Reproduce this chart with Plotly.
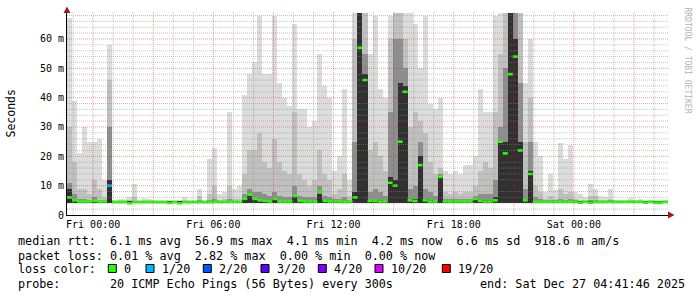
import numpy as np
import pandas as pd
import plotly.graph_objects as go

# ---------------- data ----------------
START = "2025-12-25 22:41:46"
END = "2025-12-27 04:41:46"
STEP_MIN = 15
MIN_RTT = 4.1  # ms

# smoke envelope (ms) per 15-minute bin, from outermost to innermost ping ranks
rtt_max = [
    67, 39, 21, 30, 25, 25, 26, 12, 58, 5.2, 5.5, 5.5, 6, 10.5, 5, 5.8, 5.5, 5, 5.2, 5,
    5, 5, 5, 6, 5.2, 5, 9, 5, 19, 23, 7, 8, 35, 9, 10, 41, 48, 52, 68, 48,
    48, 68, 45, 40, 37, 65, 36, 36, 30, 32, 55, 44, 40, 15, 20, 43, 12, 69, 69, 69,
    55, 68, 43, 40, 68, 69, 69, 69, 69, 65, 50, 68, 38, 36, 40, 15, 14, 15, 14, 17,
    17, 20, 43, 35, 35, 68, 69, 69, 69, 69, 69, 45, 60, 25, 20, 8, 14, 8.5, 24.6, 19,
    24, 8, 7, 6, 10.7, 9, 6.5, 6, 9, 5.2, 5.2, 5.2, 5.8, 5, 5.5, 5, 5.2, 5, 5, 5,
]
rtt_mid = [
    30, 18, 9, 9, 7, 12, 9, 6, 46, 4.8, 5, 5, 5, 6, 4.8, 5, 5, 4.8, 4.8, 4.8,
    4.8, 4.8, 4.8, 5.2, 4.8, 4.8, 6.5, 4.8, 7, 10, 5.2, 5.5, 10, 5.5, 5.5, 14, 22, 22, 28, 18,
    16, 26, 18, 15, 14, 35, 14, 12, 10, 12, 22, 14, 12, 7, 9, 14, 6.5, 60, 69, 69,
    22, 25, 20, 15, 60, 69, 69, 60, 30, 35, 32, 28, 18, 14, 16, 8, 7, 8, 7, 8,
    8, 10, 15, 18, 16, 35, 55, 69, 69, 69, 69, 25, 40, 10, 8, 5.5, 6.5, 5.5, 9, 7,
    8, 5.5, 5.2, 5, 6.5, 6.5, 5.2, 5, 5.5, 4.8, 4.8, 4.8, 5.2, 4.8, 5, 4.8, 4.8, 4.8, 4.8, 4.8,
]
rtt_core = [
    11, 7, 5.5, 5.5, 5, 6, 5, 5, 30, 4.6, 4.6, 4.6, 4.6, 4.8, 4.5, 4.6, 4.6, 4.5, 4.5, 4.5,
    4.5, 4.5, 4.5, 4.6, 4.5, 4.5, 5, 4.5, 5, 5.5, 4.8, 4.8, 5.5, 4.8, 4.8, 7, 9, 8, 8, 7,
    6.5, 8, 6.5, 6, 6, 10, 6.5, 6, 6, 6, 10, 6.5, 6, 5.5, 5.5, 6, 5.2, 25, 69, 55,
    8, 9, 8, 6.5, 35, 60, 60, 50, 9, 10, 25, 9, 8, 6.5, 14, 5.5, 5.5, 5.5, 5.5, 5.5,
    5.5, 6.5, 7, 7, 7, 12, 30, 50, 69, 69, 45, 9, 25, 6, 5.5, 5, 5, 5, 5.5, 5,
    5.5, 5, 4.8, 4.6, 5, 5, 4.8, 4.6, 5, 4.6, 4.6, 4.6, 4.8, 4.6, 4.6, 4.6, 4.6, 4.6, 4.6, 4.6,
]
rtt_inner = [
    9, 5, 4.8, 4.8, 4.7, 4.8, 4.7, 4.7, 12, 4.5, 4.5, 4.5, 4.5, 4.5, 4.5, 4.5, 4.5, 4.5, 4.5, 4.5,
    4.5, 4.5, 4.5, 4.5, 4.5, 4.5, 4.6, 4.5, 4.6, 4.8, 4.6, 4.6, 4.8, 4.6, 4.6, 5.5, 6.5, 5.5, 5.2, 5,
    4.8, 5.5, 4.8, 4.8, 4.8, 6.5, 5, 4.8, 4.8, 4.8, 7, 5, 4.8, 4.8, 4.8, 4.8, 4.7, 8, 69, 48,
    5, 5, 5, 4.8, 13, 12, 45, 44, 5.5, 5.5, 20, 5.5, 5, 4.8, 13, 4.8, 4.8, 4.8, 4.8, 4.8,
    4.8, 5.5, 5, 5, 5, 6, 25, 25, 69, 60, 25, 5.5, 15, 4.8, 4.8, 4.6, 4.6, 4.6, 4.8, 4.6,
    4.8, 4.6, 4.5, 4.5, 4.6, 4.6, 4.5, 4.5, 4.6, 4.5, 4.5, 4.5, 4.5, 4.5, 4.5, 4.5, 4.5, 4.5, 4.5, 4.5,
]
rtt_median = [
    6, 5, 4.6, 4.6, 4.6, 4.8, 4.6, 4.6, 10, 4.4, 4.4, 4.4, 4.0, 4.4, 4.4, 4.4, 4.4, 4.4, 4.4, 4.4,
    4.1, 4.4, 4.0, 4.4, 4.4, 4.4, 4.4, 4.4, 4.4, 4.5, 4.5, 4.5, 4.5, 4.5, 4.5, 5.5, 7, 5.5, 5, 4.8,
    4.6, 5.5, 4.6, 4.6, 4.6, 6.5, 4.8, 4.6, 4.6, 4.6, 8, 4.8, 4.6, 4.6, 4.6, 4.4, 4.6, 6, 57, 46,
    4.8, 4.8, 4.6, 4.6, 11, 10, 25, 42, 5, 4.8, 17, 5, 4.6, 4.6, 13, 4.6, 4.6, 4.6, 4.6, 4.6,
    4.6, 5.5, 4.8, 4.6, 4.6, 5, 25, 21, 48, 54, 22, 5, 14, 4.5, 4.5, 4.5, 4.5, 4.5, 4.5, 4.5,
    4.5, 4.5, 4.2, 4.5, 4.2, 4.5, 4.5, 4.5, 4.5, 4.5, 4.5, 4.5, 4.5, 4.5, 4.5, 4.2, 4.5, 4.2, 4.2, 4.5,
]
loss_count = [
    0, 0, 0, 0, 0, 0, 0, 0, 1, 0, 0, 0, 0, 0, 0, 0, 0, 0, 0, 0,
    0, 0, 0, 0, 0, 0, 0, 0, 0, 0, 0, 0, 0, 0, 0, 0, 0, 0, 0, 0,
    0, 0, 0, 0, 0, 0, 0, 0, 0, 0, 0, 0, 0, 0, 0, 0, 0, 0, 0, 0,
    0, 0, 0, 0, 0, 0, 0, 0, 0, 0, 0, 0, 0, 0, 0, 0, 0, 0, 0, 0,
    0, 0, 0, 0, 0, 0, 0, 0, 0, 0, 0, 0, 0, 0, 0, 0, 0, 0, 0, 0,
    0, 0, 0, 0, 0, 0, 0, 0, 0, 0, 0, 0, 0, 0, 0, 0, 0, 0, 0, 0,
]

x_tick_times = ["2025-12-26 00:00", "2025-12-26 06:00", "2025-12-26 12:00",
                "2025-12-26 18:00", "2025-12-27 00:00"]
x_tick_labels = ["Fri 00:00", "Fri 06:00", "Fri 12:00", "Fri 18:00", "Sat 00:00"]
y_tick_vals = [0, 10, 20, 30, 40, 50, 60]
y_tick_labels = ["0", "10 m", "20 m", "30 m", "40 m", "50 m", "60 m"]

loss_levels = [0, 1, 2, 3, 4, 10, 19]
loss_labels = ["0", "1/20", "2/20", "3/20", "4/20", "10/20", "19/20"]
loss_colors = ["#26ff00", "#00b8ff", "#0059ff", "#5e00ff", "#7e00ff", "#dd00ff", "#ff0000"]

stats_rtt = "median rtt:  6.1 ms avg  56.9 ms max  4.1 ms min  4.2 ms now  6.6 ms sd  918.6 m am/s"
stats_loss = "packet loss: 0.01 % avg  2.82 % max  0.00 % min  0.00 % now"
probe_text = "probe:       20 ICMP Echo Pings (56 Bytes) every 300s"
end_text = "end: Sat Dec 27 04:41:46 2025"

# ---------------- layout constants (pixels) ----------------
W, H = 697, 297
PL, PR, PT, PB = 67, 668, 12, 215
Y_MAX = 69.2
MONO = "DejaVu Sans Mono"
GRID_MINOR = "rgba(140,140,140,0.5)"
GRID_MAJOR = "rgba(200,30,30,0.42)"


def px(x):
    return (x - PL) / (PR - PL)


def py(y):
    return (PB - y) / (PB - PT)


n = len(rtt_max)
bin_start = pd.date_range(START, periods=n, freq=f"{STEP_MIN}min")
bin_end = bin_start + pd.Timedelta(minutes=STEP_MIN)
bin_mid = bin_start + pd.Timedelta(minutes=STEP_MIN / 2)
bw = STEP_MIN * 60 * 1000

fig = go.Figure()

layers = [(rtt_max, "#dcdcdc"), (rtt_mid, "#c0c0c0"), (rtt_core, "#8e8e8e"), (rtt_inner, "#303030")]
for arr, col in layers:
    a = np.minimum(np.array(arr, dtype=float), Y_MAX)
    fig.add_trace(go.Bar(
        x=bin_mid, y=a - MIN_RTT, base=MIN_RTT, width=bw,
        marker=dict(color=col, line=dict(width=0)),
        hoverinfo="skip", showlegend=False,
    ))

med = np.array(rtt_median, dtype=float)
loss = np.array(loss_count)
for lvl, col in zip(loss_levels, loss_colors):
    idx = np.where(loss == lvl)[0]
    if len(idx) == 0:
        continue
    xs, ys = [], []
    for i in idx:
        xs += [bin_start[i], bin_end[i], None]
        ys += [med[i], med[i], None]
    fig.add_trace(go.Scatter(
        x=xs, y=ys, mode="lines", line=dict(color=col, width=2.6),
        hoverinfo="skip", showlegend=False,
    ))

shapes = []
# grid drawn above the smoke, like rrdtool (semi-transparent)
t0 = pd.Timestamp("2025-12-25 23:00")
for k in range(30):
    t = t0 + pd.Timedelta(hours=k)
    if t > pd.Timestamp(END):
        break
    major = (t.hour % 3 == 0)
    shapes.append(dict(type="line", xref="x", yref="paper", x0=t, x1=t, y0=0, y1=1,
                       layer="above",
                       line=dict(color=GRID_MAJOR if major else GRID_MINOR, width=1, dash="1px,1px")))
for v in range(2, 70, 2):
    major = (v % 10 == 0)
    shapes.append(dict(type="line", xref="paper", yref="y", x0=0, x1=1, y0=v, y1=v,
                       layer="above",
                       line=dict(color=GRID_MAJOR if major else GRID_MINOR, width=1, dash="1px,1px")))
# arrows
shapes.append(dict(type="path", xref="paper", yref="paper", layer="above",
                   path=f"M {px(63.5)},{py(13)} L {px(70.5)},{py(13)} L {px(67)},{py(6.5)} Z",
                   fillcolor="#9a1c1c", line=dict(width=0)))
shapes.append(dict(type="path", xref="paper", yref="paper", layer="above",
                   path=f"M {px(668)},{py(211.5)} L {px(668)},{py(218.5)} L {px(674.5)},{py(215)} Z",
                   fillcolor="#9a1c1c", line=dict(width=0)))
# legend squares
sq_left = [108.3, 146, 203.3, 261, 318.3, 375, 442.3]
for xl, col in zip(sq_left, loss_colors):
    shapes.append(dict(type="rect", xref="paper", yref="paper",
                       x0=px(xl), x1=px(xl + 8), y0=py(272.5), y1=py(264.5),
                       fillcolor=col, line=dict(color="#000000", width=1)))

nb = "\u00a0"
annotations = []


def txt(s, x, y, size=11.75, anchor="left", color="#000000", angle=0):
    annotations.append(dict(text=s.replace(" ", nb), x=px(x), y=py(y), xref="paper", yref="paper",
                            xanchor=anchor, yanchor="middle", showarrow=False, textangle=angle,
                            font=dict(family=MONO, size=size, color=color)))


txt(stats_rtt, 15.5, 241)
txt(stats_loss, 15.5, 255.5)
txt("loss color:", 15.5, 269)
for xl, lab in zip(sq_left, loss_labels):
    txt(lab, xl + 13.8, 269)
txt(probe_text, 15.5, 284)
txt(end_text, 477.5, 284)
txt("Seconds", 10.5, 114, size=11.5, anchor="center", angle=-90)
txt("RRDTOOL / TOBI OETIKER", 687.5, 60, size=8, anchor="center", color="#b4b4b4", angle=90)

fig.update_layout(
    width=W, height=H,
    margin=dict(l=PL, r=W - PR, t=PT, b=H - PB, pad=0),
    paper_bgcolor="#ffffff", plot_bgcolor="#ffffff",
    barmode="overlay", bargap=0,
    showlegend=False,
    shapes=shapes, annotations=annotations,
    xaxis=dict(type="date", range=[START, END], tickvals=x_tick_times, ticktext=x_tick_labels,
               showgrid=False, zeroline=False, showline=True, linecolor="#000000", linewidth=1,
               ticks="", tickfont=dict(family=MONO, size=10, color="#000000")),
    yaxis=dict(range=[0, Y_MAX], tickvals=y_tick_vals, ticktext=y_tick_labels,
               showgrid=False, zeroline=False, showline=True, linecolor="#000000", linewidth=1,
               ticks="", tickfont=dict(family=MONO, size=10, color="#000000")),
)

fig.write_html("out.html")
